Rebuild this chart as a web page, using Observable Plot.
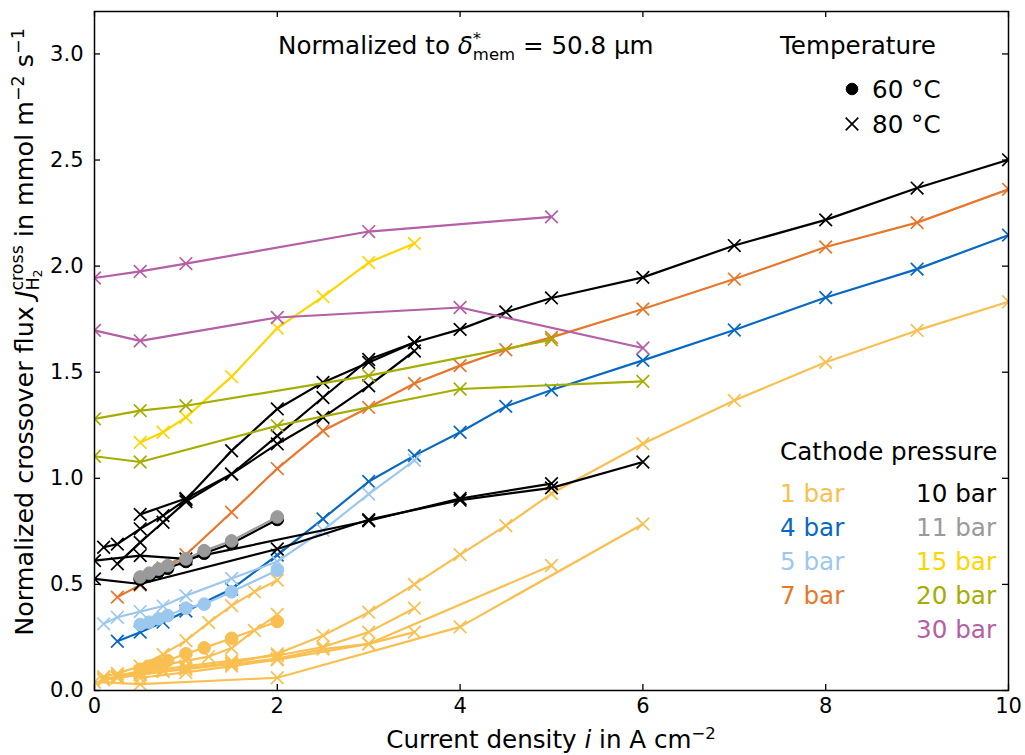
<!DOCTYPE html>
<html>
<head>
<meta charset="utf-8">
<script src="https://cdn.jsdelivr.net/npm/d3@7"></script>
<script src="https://cdn.jsdelivr.net/npm/@observablehq/plot@0.6"></script>
<style>
  html, body { margin: 0; padding: 0; background: #fff; }
  #chart { width: 1025px; height: 755px; }
</style>
</head>
<body>
<div id="chart"></div>
<script>
// ---------- ticks & legend labels ----------
const X_TICKS = [0, 2, 4, 6, 8, 10];
const Y_TICKS = [0, 0.5, 1.0, 1.5, 2.0, 2.5, 3.0];
const PRESSURES = ["1 bar", "4 bar", "5 bar", "7 bar", "10 bar", "11 bar", "15 bar", "20 bar", "30 bar"];
const COLORS = ["#f9bf50", "#0868c2", "#9cc8ee", "#e8762b", "#000000", "#9a9a9a", "#ffd500", "#a5ae00", "#b45fa6"];
const TEMPS = ["60 °C", "80 °C"];

// ---------- 1 bar ----------
const b1_80_a_x = [0.1, 0.25, 0.5, 0.75, 1, 1.5, 2, 2.5, 3, 3.5, 4, 4.5, 5, 6, 7, 8, 9, 10];
const b1_80_a_y = [0.05, 0.06, 0.075, 0.09, 0.105, 0.13, 0.173, 0.259, 0.369, 0.50, 0.64, 0.777, 0.928, 1.163, 1.367, 1.547, 1.697, 1.832];
const b1_80_b_x = [0.1, 0.25, 0.5, 0.75, 1, 1.5, 2, 2.5, 3, 3.5];
const b1_80_b_y = [0.055, 0.065, 0.085, 0.10, 0.115, 0.14, 0.165, 0.205, 0.275, 0.388];
const b1_80_c_x = [0.25, 0.5, 0.75, 1, 1.5, 2, 2.5, 3, 3.5];
const b1_80_c_y = [0.06, 0.075, 0.09, 0.10, 0.125, 0.15, 0.195, 0.22, 0.275];
const b1_80_d_x = [0.5, 1, 1.5, 2, 3, 5];
const b1_80_d_y = [0.06, 0.085, 0.115, 0.145, 0.22, 0.589];
const b1_80_e_x = [0, 0.5, 2, 4, 6];
const b1_80_e_y = [0.04, 0.03, 0.06, 0.30, 0.785];
const b1_80_f_x = [0.1, 0.25, 0.5, 0.75, 1, 1.25, 1.5, 1.75, 2];
const b1_80_f_y = [0.065, 0.08, 0.115, 0.17, 0.235, 0.32, 0.40, 0.465, 0.52];
const b1_80_g_x = [0.25, 0.5, 0.75, 1, 1.25, 1.5, 1.75, 2];
const b1_80_g_y = [0.07, 0.09, 0.12, 0.14, 0.16, 0.20, 0.283, 0.358];
const b1_60_x = [0.5, 0.6, 0.7, 0.8, 1.0, 1.2, 1.5, 2.0];
const b1_60_y = [0.10, 0.115, 0.128, 0.141, 0.173, 0.201, 0.246, 0.325];

// ---------- 4 bar ----------
const b4_80_x = [0.25, 0.5, 0.75, 1, 1.5, 2, 2.5, 3, 3.5, 4, 4.5, 5, 6, 7, 8, 9, 10];
const b4_80_y = [0.232, 0.275, 0.322, 0.374, 0.478, 0.638, 0.809, 0.985, 1.107, 1.217, 1.339, 1.416, 1.556, 1.699, 1.852, 1.986, 2.146];

// ---------- 5 bar ----------
const b5_80_x = [0.1, 0.25, 0.5, 0.75, 1, 1.5, 2, 2.5, 3, 3.5];
const b5_80_y = [0.314, 0.345, 0.372, 0.398, 0.447, 0.528, 0.608, 0.755, 0.926, 1.085];
const b5_60_x = [0.5, 0.6, 0.7, 0.8, 1.0, 1.2, 1.5, 2.0];
const b5_60_y = [0.311, 0.322, 0.338, 0.353, 0.388, 0.407, 0.465, 0.567];

// ---------- 7 bar ----------
const b7_80_x = [0.25, 0.5, 0.75, 1, 1.5, 2, 2.5, 3, 3.5, 4, 4.5, 5, 6, 7, 8, 9, 10];
const b7_80_y = [0.44, 0.497, 0.578, 0.64, 0.84, 1.046, 1.224, 1.334, 1.447, 1.531, 1.606, 1.664, 1.798, 1.939, 2.09, 2.205, 2.362];

// ---------- 10 bar ----------
const b10_80_a_x = [0.5, 1, 1.5, 2, 2.5, 3, 3.5];
const b10_80_a_y = [0.83, 0.905, 1.02, 1.20, 1.381, 1.56, 1.64];
const b10_80_b_x = [0.1, 0.25, 0.5, 0.75, 1, 1.5, 2, 2.5, 3, 3.5, 4, 4.5, 5, 6, 7, 8, 9, 10];
const b10_80_b_y = [0.675, 0.69, 0.762, 0.824, 0.90, 1.13, 1.327, 1.452, 1.546, 1.64, 1.702, 1.784, 1.85, 1.947, 2.097, 2.218, 2.368, 2.501];
const b10_80_c_x = [0.25, 0.5, 0.75, 1, 1.5, 2, 2.5, 3, 3.5];
const b10_80_c_y = [0.597, 0.698, 0.793, 0.89, 1.02, 1.162, 1.287, 1.436, 1.60];
const b10_80_d_x = [0, 0.5, 1, 3, 4, 5];
const b10_80_d_y = [0.612, 0.636, 0.62, 0.80, 0.905, 0.975];
const b10_80_e_x = [0, 0.5, 2, 3, 4, 5, 6];
const b10_80_e_y = [0.526, 0.502, 0.667, 0.805, 0.897, 0.955, 1.077];
const b10_60_x = [0.5, 0.6, 0.7, 0.8, 1.0, 1.2, 1.5, 2.0];
const b10_60_y = [0.524, 0.541, 0.560, 0.576, 0.608, 0.647, 0.693, 0.806];

// ---------- 11 bar ----------
const b11_60_x = [0.5, 0.6, 0.7, 0.8, 1.0, 1.2, 1.5, 2.0];
const b11_60_y = [0.535, 0.553, 0.572, 0.588, 0.62, 0.659, 0.705, 0.818];

// ---------- 15 bar ----------
const b15_80_x = [0.5, 0.75, 1, 1.5, 2, 2.5, 3, 3.5];
const b15_80_y = [1.169, 1.217, 1.287, 1.479, 1.708, 1.856, 2.017, 2.107];

// ---------- 20 bar ----------
const b20_80_a_x = [0, 0.5, 1, 3, 5];
const b20_80_a_y = [1.28, 1.319, 1.342, 1.484, 1.653];
const b20_80_b_x = [0, 0.5, 2, 4, 6];
const b20_80_b_y = [1.104, 1.077, 1.248, 1.421, 1.457];

// ---------- 30 bar ----------
const b30_80_a_x = [0, 0.5, 1, 3, 5];
const b30_80_a_y = [1.944, 1.975, 2.012, 2.163, 2.232];
const b30_80_b_x = [0, 0.5, 2, 4, 6];
const b30_80_b_y = [1.697, 1.648, 1.758, 1.805, 1.614];

// ---------- assemble series (drawing order) ----------
const SERIES = [
  ["1 bar", "80 °C", b1_80_a_x, b1_80_a_y],
  ["1 bar", "80 °C", b1_80_b_x, b1_80_b_y],
  ["1 bar", "80 °C", b1_80_c_x, b1_80_c_y],
  ["1 bar", "80 °C", b1_80_d_x, b1_80_d_y],
  ["1 bar", "80 °C", b1_80_e_x, b1_80_e_y],
  ["1 bar", "80 °C", b1_80_f_x, b1_80_f_y],
  ["1 bar", "80 °C", b1_80_g_x, b1_80_g_y],
  ["1 bar", "60 °C", b1_60_x, b1_60_y],
  ["4 bar", "80 °C", b4_80_x, b4_80_y],
  ["5 bar", "80 °C", b5_80_x, b5_80_y],
  ["5 bar", "60 °C", b5_60_x, b5_60_y],
  ["7 bar", "80 °C", b7_80_x, b7_80_y],
  ["10 bar", "80 °C", b10_80_a_x, b10_80_a_y],
  ["10 bar", "80 °C", b10_80_b_x, b10_80_b_y],
  ["10 bar", "80 °C", b10_80_c_x, b10_80_c_y],
  ["10 bar", "80 °C", b10_80_d_x, b10_80_d_y],
  ["10 bar", "80 °C", b10_80_e_x, b10_80_e_y],
  ["10 bar", "60 °C", b10_60_x, b10_60_y],
  ["11 bar", "60 °C", b11_60_x, b11_60_y],
  ["15 bar", "80 °C", b15_80_x, b15_80_y],
  ["20 bar", "80 °C", b20_80_a_x, b20_80_a_y],
  ["20 bar", "80 °C", b20_80_b_x, b20_80_b_y],
  ["30 bar", "80 °C", b30_80_a_x, b30_80_a_y],
  ["30 bar", "80 °C", b30_80_b_x, b30_80_b_y]
];
const colorOf = p => COLORS[PRESSURES.indexOf(p)];

const W = 1025, H = 755;
const M = {left: 94, right: 17, top: 11, bottom: 65};
const frameW = W - M.left - M.right, frameH = H - M.top - M.bottom;
const TICK = 6;
const FONT = "DejaVu Sans, sans-serif";

const seriesMarks = SERIES.flatMap(([p, t, xs, ys]) => {
  const rows = xs.map((x, j) => ({x, y: ys[j]}));
  const c = colorOf(p);
  const line = Plot.line(rows, {x: "x", y: "y", stroke: c, strokeWidth: 2.2, clip: true});
  const dot = t === "60 °C"
    ? Plot.dot(rows, {x: "x", y: "y", r: 6.3, fill: c, stroke: c, strokeWidth: 1, clip: true})
    : Plot.dot(rows, {x: "x", y: "y", symbol: "times", r: 5.8, stroke: c, strokeWidth: 1.7, clip: true});
  return [line, dot];
});

const chart = Plot.plot({
  width: W, height: H,
  marginLeft: M.left, marginRight: M.right, marginTop: M.top, marginBottom: M.bottom,
  style: {fontFamily: FONT, fontSize: "21px", background: "#fff", color: "#000", overflow: "visible"},
  x: {domain: [0, 10]},
  y: {domain: [0, 3.2]},
  marks: [
    ...seriesMarks,
    Plot.axisX(X_TICKS, {tickSize: 0, tickPadding: 8, label: null}),
    Plot.axisY(Y_TICKS, {tickSize: 0, tickPadding: 11, tickFormat: d3.format(".1f"), label: null}),
    Plot.ruleX(X_TICKS, {x: d => d, insetTop: frameH - TICK, stroke: "#000", strokeWidth: 1.3}),
    Plot.ruleX(X_TICKS, {x: d => d, insetBottom: frameH - TICK, stroke: "#000", strokeWidth: 1.3}),
    Plot.ruleY(Y_TICKS, {y: d => d, insetRight: frameW - TICK, stroke: "#000", strokeWidth: 1.3}),
    Plot.ruleY(Y_TICKS, {y: d => d, insetLeft: frameW - TICK, stroke: "#000", strokeWidth: 1.3}),
    Plot.frame({stroke: "#000", strokeWidth: 1.5})
  ]
});
document.getElementById("chart").appendChild(chart);

// ---------- rich text annotations ----------
const svg = d3.select(chart);
const LF = 24.6;  // legend / label font size
const SF = 16.5;  // script font size

// Title
{
  const t = svg.append("text").attr("x", 278).attr("y", 54).attr("text-anchor", "start")
    .attr("font-family", FONT).attr("font-size", LF).attr("fill", "#000");
  t.append("tspan").text("Normalized to ");
  t.append("tspan").attr("font-style", "italic").text("δ");
  const star = t.append("tspan").attr("font-size", SF).attr("dy", -10).text("*");
  const sw = star.node().getComputedTextLength();
  t.append("tspan").attr("font-size", SF).attr("dx", -sw).attr("dy", 16).text("mem");
  t.append("tspan").attr("dy", -6).text(" = 50.8 μm");
}

// X label
{
  const t = svg.append("text").attr("x", M.left + frameW / 2).attr("y", 748)
    .attr("text-anchor", "middle")
    .attr("font-family", FONT).attr("font-size", LF).attr("fill", "#000");
  t.append("tspan").text("Current density ");
  t.append("tspan").attr("font-style", "italic").text("i");
  t.append("tspan").text(" in A cm");
  t.append("tspan").attr("font-size", SF).attr("dy", -9).text("−2");
}

// Y label
{
  const YF = 25.4, YS = 17.5;
  const t = svg.append("text").attr("transform", `translate(33, 332) rotate(-90)`)
    .attr("text-anchor", "middle")
    .attr("font-family", FONT).attr("font-size", YF).attr("fill", "#000");
  t.append("tspan").text("Normalized crossover flux ");
  t.append("tspan").attr("font-style", "italic").text("J");
  const h = t.append("tspan").attr("font-size", YS).attr("dy", 6).text("H");
  const two = t.append("tspan").attr("font-size", 12.5).attr("dy", 3).text("2");
  const back = h.node().getComputedTextLength() + two.node().getComputedTextLength();
  t.append("tspan").attr("font-size", YS).attr("dx", -back).attr("dy", -19).text("cross");
  t.append("tspan").attr("dy", 10).text(" in mmol m");
  t.append("tspan").attr("font-size", YS).attr("dy", -9).text("−2");
  t.append("tspan").attr("dy", 9).text(" s");
  t.append("tspan").attr("font-size", YS).attr("dy", -9).text("−1");
}

// Temperature legend
{
  const g = svg.append("g").attr("font-family", FONT).attr("font-size", LF).attr("fill", "#000")
    .attr("text-anchor", "start");
  g.append("text").attr("x", 780).attr("y", 54).text("Temperature");
  TEMPS.forEach((lab, i) => {
    const cy = 89 + i * 35;
    const sym = i === 0 ? d3.symbol(d3.symbolCircle, Math.PI * 5.8 * 5.8) : d3.symbol(d3.symbolTimes, Math.PI * 5.8 * 5.8);
    g.append("path").attr("transform", `translate(852,${cy})`).attr("d", sym())
      .attr("fill", i === 0 ? "#000" : "none").attr("stroke", "#000").attr("stroke-width", i === 0 ? 1 : 1.7);
    g.append("text").attr("x", 872).attr("y", cy + 9).text(lab);
  });
}

// Cathode pressure legend
{
  const g = svg.append("g").attr("font-family", FONT).attr("font-size", LF);
  g.append("text").attr("x", 780).attr("y", 460).attr("text-anchor", "start").attr("fill", "#000").text("Cathode pressure");
  PRESSURES.forEach((p, i) => {
    const col = i < 4 ? 0 : 1;
    const row = col === 0 ? i : i - 4;
    g.append("text")
      .attr("x", col === 0 ? 780 : 996)
      .attr("text-anchor", col === 0 ? "start" : "end")
      .attr("y", 502 + row * 34)
      .attr("fill", COLORS[i]).text(p);
  });
}
</script>
</body>
</html>
